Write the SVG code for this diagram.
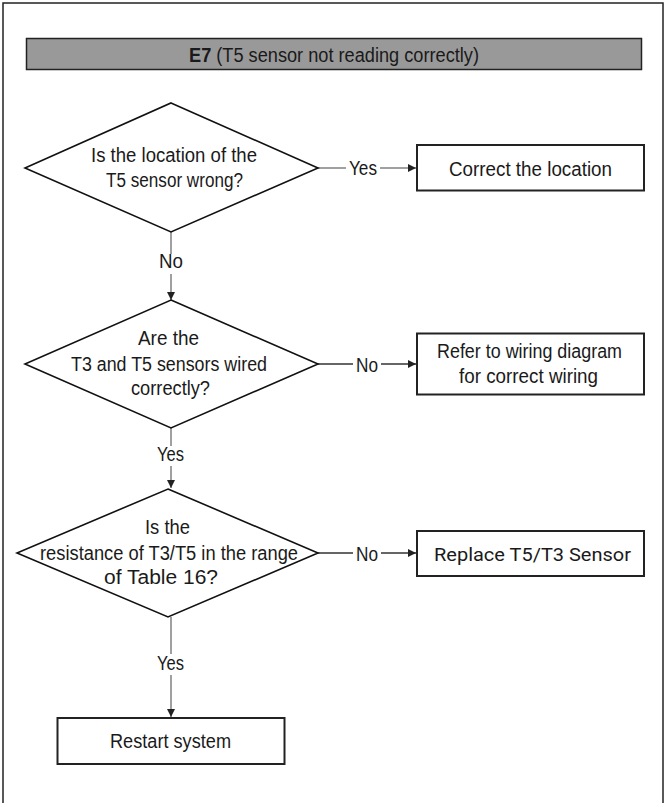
<svg xmlns="http://www.w3.org/2000/svg" width="665" height="803" viewBox="0 0 665 803">
<style>
.t{font-family:"Liberation Sans",Arial,sans-serif;font-size:20px;fill:#1a1a1a;}
.r{font-family:Roboto,"Liberation Sans",sans-serif;font-size:19px;fill:#1a1a1a;}
.shape{fill:#fff;stroke:#111;stroke-width:1.6;}
.box{fill:#fff;stroke:#222;stroke-width:2;}
.cg{stroke:#808080;stroke-width:1.5;fill:none;}
.cd{stroke:#333;stroke-width:1.3;fill:none;}
</style>
<defs>
<marker id="ah" viewBox="0 0 10 10" refX="10" refY="5" markerWidth="9" markerHeight="8" markerUnits="userSpaceOnUse" orient="auto">
<path d="M0,0 L10,5 L0,10 Z" fill="#222"/>
</marker>
</defs>
<rect x="3" y="3" width="660" height="806" fill="#fff" stroke="#222" stroke-width="1.5"/>
<g id="header">
<rect x="26.5" y="38.5" width="615" height="31" fill="#999" stroke="#222" stroke-width="1.5"/>
<text class="t" x="189" y="62" textLength="290" lengthAdjust="spacingAndGlyphs"><tspan font-weight="bold">E7</tspan> (T5 sensor not reading correctly)</text>
</g>
<g id="connectors">
<line class="cg" x1="318" y1="168" x2="346" y2="168"/>
<line class="cg" x1="380" y1="168" x2="416" y2="168" marker-end="url(#ah)"/>
<text class="t" x="363" y="175" text-anchor="middle" textLength="28" lengthAdjust="spacingAndGlyphs">Yes</text>
<line class="cg" x1="171" y1="232" x2="171" y2="254"/>
<line class="cg" x1="171" y1="274" x2="171" y2="300" marker-end="url(#ah)"/>
<text class="t" x="171" y="268" text-anchor="middle" textLength="24" lengthAdjust="spacingAndGlyphs">No</text>
<line class="cd" x1="318" y1="364" x2="353" y2="364"/>
<line class="cd" x1="381" y1="364" x2="416" y2="364" marker-end="url(#ah)"/>
<text class="t" x="367" y="372" text-anchor="middle" textLength="22" lengthAdjust="spacingAndGlyphs">No</text>
<line class="cg" x1="171" y1="428" x2="171" y2="446"/>
<line class="cg" x1="171" y1="466" x2="171" y2="488" marker-end="url(#ah)"/>
<text class="t" x="170.5" y="461" text-anchor="middle" textLength="27" lengthAdjust="spacingAndGlyphs">Yes</text>
<line class="cd" x1="318" y1="553" x2="353" y2="553"/>
<line class="cd" x1="381" y1="553" x2="416" y2="553" marker-end="url(#ah)"/>
<text class="t" x="367" y="561" text-anchor="middle" textLength="22" lengthAdjust="spacingAndGlyphs">No</text>
<line class="cg" x1="171" y1="617" x2="171" y2="654"/>
<line class="cg" x1="171" y1="675" x2="171" y2="717" marker-end="url(#ah)"/>
<text class="t" x="170.5" y="670" text-anchor="middle" textLength="27" lengthAdjust="spacingAndGlyphs">Yes</text>
</g>
<g id="d1">
<polygon class="shape" points="171,103 318,168 171,232 25,168"/>
<text class="t" x="174" y="162" text-anchor="middle" textLength="166" lengthAdjust="spacingAndGlyphs">Is the location of the</text>
<text class="t" x="174.5" y="186.5" text-anchor="middle" textLength="137" lengthAdjust="spacingAndGlyphs">T5 sensor wrong?</text>
</g>
<g id="b1">
<rect class="box" x="417" y="145" width="227" height="45.5"/>
<text class="t" x="530.5" y="175.5" text-anchor="middle" textLength="163" lengthAdjust="spacingAndGlyphs">Correct the location</text>
</g>
<g id="d2">
<polygon class="shape" points="171,300 318,364 171,428 25,364"/>
<text class="t" x="168.5" y="345" text-anchor="middle" textLength="61" lengthAdjust="spacingAndGlyphs">Are the</text>
<text class="t" x="169" y="371" text-anchor="middle" textLength="196" lengthAdjust="spacingAndGlyphs">T3 and T5 sensors wired</text>
<text class="t" x="170.5" y="395" text-anchor="middle" textLength="79" lengthAdjust="spacingAndGlyphs">correctly?</text>
</g>
<g id="b2">
<rect class="box" x="417" y="333.5" width="227" height="61"/>
<text class="t" x="529.5" y="358" text-anchor="middle" textLength="185" lengthAdjust="spacingAndGlyphs">Refer to wiring diagram</text>
<text class="t" x="528.5" y="383" text-anchor="middle" textLength="139" lengthAdjust="spacingAndGlyphs">for correct wiring</text>
</g>
<g id="d3">
<polygon class="shape" points="168,489 318,553 168,617 17,553"/>
<text class="t" x="167.5" y="534" text-anchor="middle" textLength="45" lengthAdjust="spacingAndGlyphs">Is the</text>
<text class="t" x="169" y="560" text-anchor="middle" textLength="258" lengthAdjust="spacingAndGlyphs">resistance of T3/T5 in the range</text>
<text class="t" x="161" y="584" text-anchor="middle" textLength="114" lengthAdjust="spacingAndGlyphs">of Table 16?</text>
</g>
<g id="b3">
<rect class="box" x="417" y="531" width="227" height="45"/>
<text class="r" x="532.5" y="561" text-anchor="middle" textLength="197" lengthAdjust="spacingAndGlyphs">Replace T5/T3 Sensor</text>
</g>
<g id="b4">
<rect class="box" x="57.5" y="718" width="227" height="46"/>
<text class="t" x="170.5" y="748" text-anchor="middle" textLength="121" lengthAdjust="spacingAndGlyphs">Restart system</text>
</g>
</svg>
